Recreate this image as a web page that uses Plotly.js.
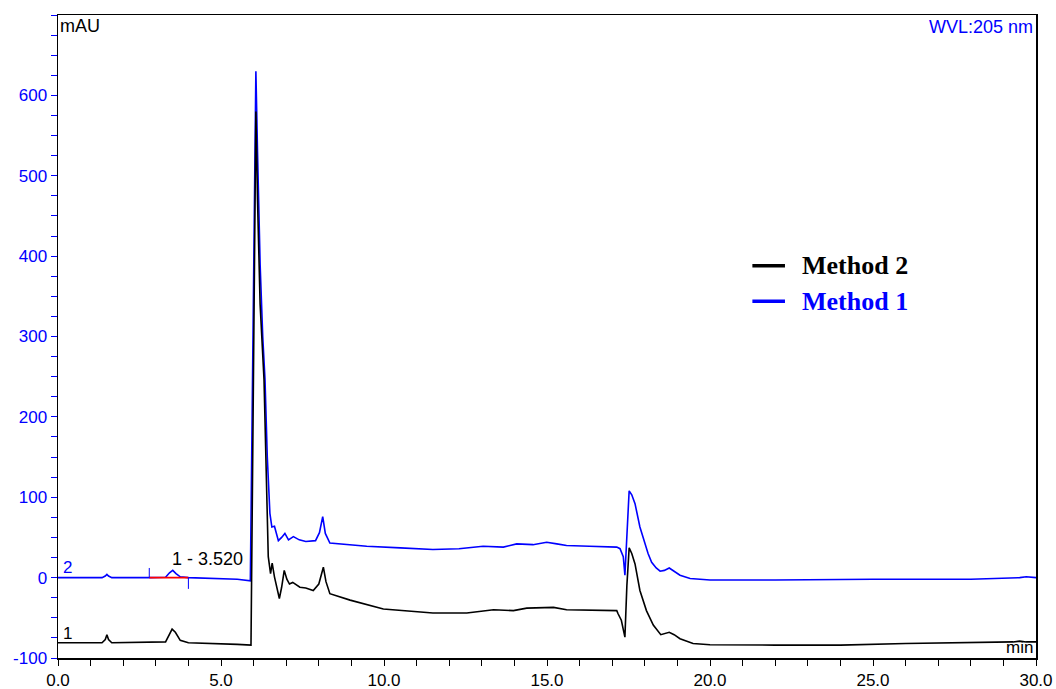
<!DOCTYPE html>
<html>
<head>
<meta charset="utf-8">
<script src="https://cdn.plot.ly/plotly-3.0.1.min.js"></script>
<style>html,body{margin:0;padding:0;background:#fff;}#chart{width:1056px;height:689px;}</style>
</head>
<body>
<div id="chart"></div>
<script>
// Method 1 (blue, channel 2)
const timeMethod1 = [0, 1.35, 1.45, 1.5, 1.55, 1.65, 2.8, 3.3, 3.42, 3.52, 3.62, 3.75, 4.0, 5.0, 5.5, 5.9,
  5.92, 5.97, 6.02, 6.07, 6.12, 6.2, 6.28, 6.35, 6.42, 6.47, 6.5, 6.56, 6.64, 6.7, 6.76, 6.86, 6.96, 7.07, 7.22, 7.4,
  7.6, 7.9, 8.02, 8.12, 8.2, 8.34, 8.6, 9.47, 10.5, 11.5, 12.3, 13.04, 13.66, 14.07, 14.57, 14.99, 15.3, 15.6,
  16.3, 17.14, 17.24, 17.34, 17.39, 17.45, 17.52, 17.6, 17.7, 17.85, 18.0, 18.1, 18.21, 18.35, 18.47, 18.6,
  18.75, 18.9, 19.08, 19.39, 20, 22, 25, 28, 29.3, 29.5, 29.7, 30];
const valueMethod1 = [0, 0, 2, 4, 2, 0, 0, 0.5, 6, 9, 5, 1, 0, -1, -2, -4,
  80, 250, 450, 630, 530, 390, 300, 246, 150, 100, 80, 63, 64, 55, 46, 50, 55, 47, 51, 47,
  45, 46, 56, 76, 55, 43, 42, 39, 37, 35, 36, 39, 38, 42, 41, 44, 42, 40,
  39, 38, 36, 26, 3, 45, 108, 103, 92, 63, 42, 30, 19, 12, 8, 9,
  12, 8, 3, -1, -3, -3, -2, -2, -1, 0, 1, 0, -1];

// Method 2 (black, channel 1)
const timeMethod2 = [0, 1.35, 1.45, 1.5, 1.55, 1.65, 3.3, 3.42, 3.5, 3.6, 3.75, 4.0, 5.0, 5.5, 5.92,
  5.94, 5.98, 6.02, 6.07, 6.12, 6.2, 6.32, 6.4, 6.45, 6.52, 6.57, 6.64, 6.72, 6.79, 6.86, 6.94, 7.02, 7.1, 7.2,
  7.3, 7.42, 7.6, 7.83, 8.0, 8.14, 8.22, 8.34, 8.96, 9.98, 11.5, 12.54, 13.36, 13.97, 14.38, 15.2, 15.6, 16.4,
  17.14, 17.18, 17.28, 17.39, 17.45, 17.52, 17.6, 17.7, 17.85, 18.05, 18.26, 18.49, 18.6, 18.75, 18.9, 19.08,
  19.48, 20, 22, 24, 26, 28, 29.3, 29.5, 29.7, 30];
const valueMethod2 = [-81, -81, -77, -71, -77, -81, -80, -70, -64, -68, -78, -81, -82, -83, -84,
  0, 200, 400, 580, 470, 340, 246, 121, 26, 5, 18, 1, -15, -26, -12, 9, -2, -8, -6,
  -9, -12, -13, -16, -8, 13, -5, -20, -28, -39, -44, -44, -40, -41, -38, -37, -40, -41,
  -41, -45, -53, -74, -10, 37, 30, 17, -16, -41, -59, -71, -70, -68, -71, -76,
  -82, -83.5, -84, -84, -82, -81, -80, -79, -80, -80];

// Integration marks for peak 1 - 3.520
const baselineTime = [2.8, 4.0];
const baselineValue = [0, 0];
const markTimeStart = [2.8, 2.8];
const markValueStart = [0, 12];
const markTimeEnd = [4.0, 4.0];
const markValueEnd = [0, -14];

const xTickVals = [0, 5, 10, 15, 20, 25, 30];
const xTickText = ["0.0", "5.0", "10.0", "15.0", "20.0", "25.0", "30.0"];
const yTickVals = [-100, 0, 100, 200, 300, 400, 500, 600];
const yTickText = ["-100", "0", "100", "200", "300", "400", "500", "600"];

const legendNames = ["Method 2", "Method 1"];
const legendColors = ["#000000", "#0000ff"];

const BLUE = "#0000ff";
const traces = [
  {x: timeMethod1, y: valueMethod1, type: "scatter", mode: "lines", line: {color: BLUE, width: 1.6}, name: "Method 1", showlegend: false},
  {x: timeMethod2, y: valueMethod2, type: "scatter", mode: "lines", line: {color: "#000", width: 1.6}, name: "Method 2", showlegend: false},
  {x: baselineTime, y: baselineValue, type: "scatter", mode: "lines", line: {color: "#ff0000", width: 1.6}, showlegend: false},
  {x: markTimeStart, y: markValueStart, type: "scatter", mode: "lines", line: {color: BLUE, width: 1}, showlegend: false},
  {x: markTimeEnd, y: markValueEnd, type: "scatter", mode: "lines", line: {color: BLUE, width: 1}, showlegend: false}
];

const txtFont = {family: "Liberation Sans, Arial, sans-serif", size: 17, color: "#000"};
const legX0 = 21.3, legX1 = 22.3, legTx = 22.75;
const legY = [388, 344];

const annotations = [
  {xref: "paper", yref: "paper", x: 0, y: 1, xanchor: "left", yanchor: "top", xshift: 0, yshift: 1, text: "mAU", showarrow: false, font: Object.assign({}, txtFont, {size: 18})},
  {xref: "paper", yref: "paper", x: 1, y: 1, xanchor: "right", yanchor: "top", xshift: -1, yshift: 0, text: "WVL:205 nm", showarrow: false, font: Object.assign({}, txtFont, {color: BLUE, size: 18})},
  {xref: "paper", yref: "paper", x: 1, y: 0, xanchor: "right", yanchor: "bottom", xshift: -1, yshift: -1, text: "min", showarrow: false, font: txtFont},
  {x: 0.1, y: 12, xanchor: "left", yanchor: "middle", text: "2", showarrow: false, font: Object.assign({}, txtFont, {color: BLUE})},
  {x: 0.1, y: -69, xanchor: "left", yanchor: "middle", text: "1", showarrow: false, font: txtFont},
  {x: 4.6, y: 23, xanchor: "center", yanchor: "middle", text: "1 - 3.520", showarrow: false, font: Object.assign({}, txtFont, {size: 18})}
];
const shapes = [];
legendNames.forEach((n, i) => {
  annotations.push({x: legTx, y: legY[i], xanchor: "left", yanchor: "middle", text: "<b>" + n + "</b>", showarrow: false,
    font: {family: "Liberation Serif, Times New Roman, serif", size: 26, color: legendColors[i]}});
  shapes.push({type: "line", xref: "x", yref: "y", x0: legX0, x1: legX1, y0: legY[i], y1: legY[i], line: {color: legendColors[i], width: 3.5}});
});

const layout = {
  width: 1056, height: 689,
  margin: {l: 58, r: 20, t: 15, b: 31, pad: 0},
  paper_bgcolor: "#fff", plot_bgcolor: "#fff",
  showlegend: false,
  xaxis: {
    range: [0, 30], showgrid: false, zeroline: false,
    showline: true, linecolor: "#000", linewidth: 1.5, mirror: true,
    ticks: "outside", ticklen: 6, tickcolor: "#000", tickwidth: 1,
    tickvals: xTickVals, ticktext: xTickText,
    tickfont: {family: "Liberation Sans, Arial, sans-serif", size: 17, color: "#000"},
    minor: {dtick: 1, ticks: "outside", ticklen: 6, tickcolor: "#000", tickwidth: 1}
  },
  yaxis: {
    range: [-100, 700], showgrid: false, zeroline: false,
    showline: true, linecolor: "#000", linewidth: 1.5, mirror: true,
    ticks: "outside", ticklen: 6, tickcolor: BLUE, tickwidth: 1,
    tickvals: yTickVals, ticktext: yTickText,
    tickfont: {family: "Liberation Sans, Arial, sans-serif", size: 17, color: BLUE},
    minor: {dtick: 25, ticks: "outside", ticklen: 6, tickcolor: BLUE, tickwidth: 1}
  },
  annotations: annotations,
  shapes: shapes
};

Plotly.newPlot("chart", traces, layout, {displayModeBar: false, staticPlot: true});
</script>
</body>
</html>
